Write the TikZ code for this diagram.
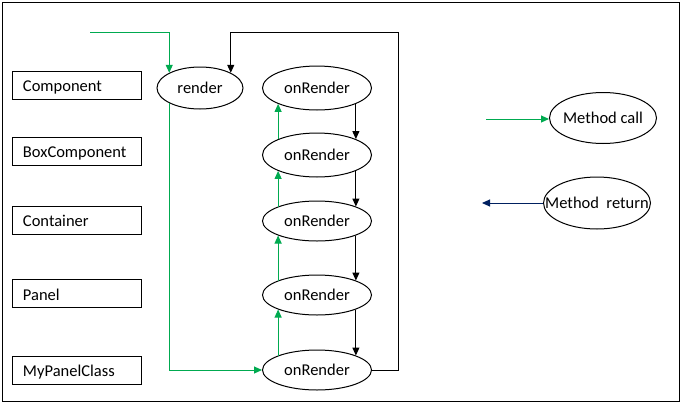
\documentclass[tikz,border=0pt]{standalone}
\usepackage{fontspec}
\setmainfont{Carlito}
\usetikzlibrary{arrows.meta,shapes.geometric}
\definecolor{callgreen}{RGB}{0,170,80}
\definecolor{retnavy}{RGB}{0,32,96}
\begin{document}
\begin{tikzpicture}[x=1pt,y=-1pt,
  font=\fontsize{16.5}{19}\selectfont,
  classbox/.style={draw, line width=1pt, minimum width=129pt, minimum height=28pt,
                   text width=107pt, align=left, inner sep=0pt,
                   text height=13pt, text depth=0pt},
  meth/.style={draw, ellipse, line width=1pt, inner sep=0pt},
  tip/.style={-{Triangle[length=8pt,width=7pt]}},
  call/.style={callgreen, line width=1pt, tip},
  ret/.style={black, line width=1pt, tip},
  retleg/.style={retnavy, line width=1pt, tip}]
\useasboundingbox (0,0) rectangle (683,405);
\draw[line width=1pt] (2,2) rectangle (679,401);

% class boxes
\node[classbox] (c1) at (76.5,85)  {Component};
\node[classbox] (c2) at (76.5,151) {BoxComponent};
\node[classbox] (c3) at (76.5,220) {Container};
\node[classbox] (c4) at (76.5,293.5) {Panel};
\node[classbox] (c5) at (76.5,370) {MyPanelClass};

% methods
\node[meth, minimum width=86pt, minimum height=42pt] (render) at (200,88) {\makebox[0pt]{render}};
\node[meth, minimum width=109pt, minimum height=44pt] (r1) at (317,88)  {\makebox[0pt]{onRender}};
\node[meth, minimum width=109pt, minimum height=44pt] (r2) at (317,155) {\makebox[0pt]{onRender}};
\node[meth, minimum width=109pt, minimum height=40pt] (r3) at (317,221) {\makebox[0pt]{onRender}};
\node[meth, minimum width=109pt, minimum height=40pt] (r4) at (317,295) {\makebox[0pt]{onRender}};
\node[meth, minimum width=109pt, minimum height=40pt] (r5) at (317,370) {\makebox[0pt]{onRender}};

% call flow
\coordinate (start) at (90,32);
\draw[call] (start) -| (render.north west);
\draw[call] (render.south west) |- (r5.west);
\draw[call] (r5.north west) -- (r4.south west);
\draw[call] (r4.north west) -- (r3.south west);
\draw[call] (r3.north west) -- (r2.south west);
\draw[call] (r2.north west) -- (r1.south west);

% return flow
\draw[ret] (r1.south east) -- (r2.north east);
\draw[ret] (r2.south east) -- (r3.north east);
\draw[ret] (r3.south east) -- (r4.north east);
\draw[ret] (r4.south east) -- (r5.north east);
\coordinate (loop) at (398,32);
\draw[ret] (r5.east) -- (r5.east -| loop) -- (loop) -| (render.north east);

% legend
\node[meth, minimum width=107pt, minimum height=51pt] (mc) at (603,118) {\makebox[0pt]{Method call}};
\node[meth, minimum width=107pt, minimum height=52pt] (mr) at (597,203) {\makebox[0pt]{Method\ \ return}};
\coordinate (lc) at (486,119);
\coordinate (lr) at (482,203);
\draw[call] (lc) -- (lc -| mc.west);
\draw[retleg] (mr.west) -- (lr);
\end{tikzpicture}
\end{document}
